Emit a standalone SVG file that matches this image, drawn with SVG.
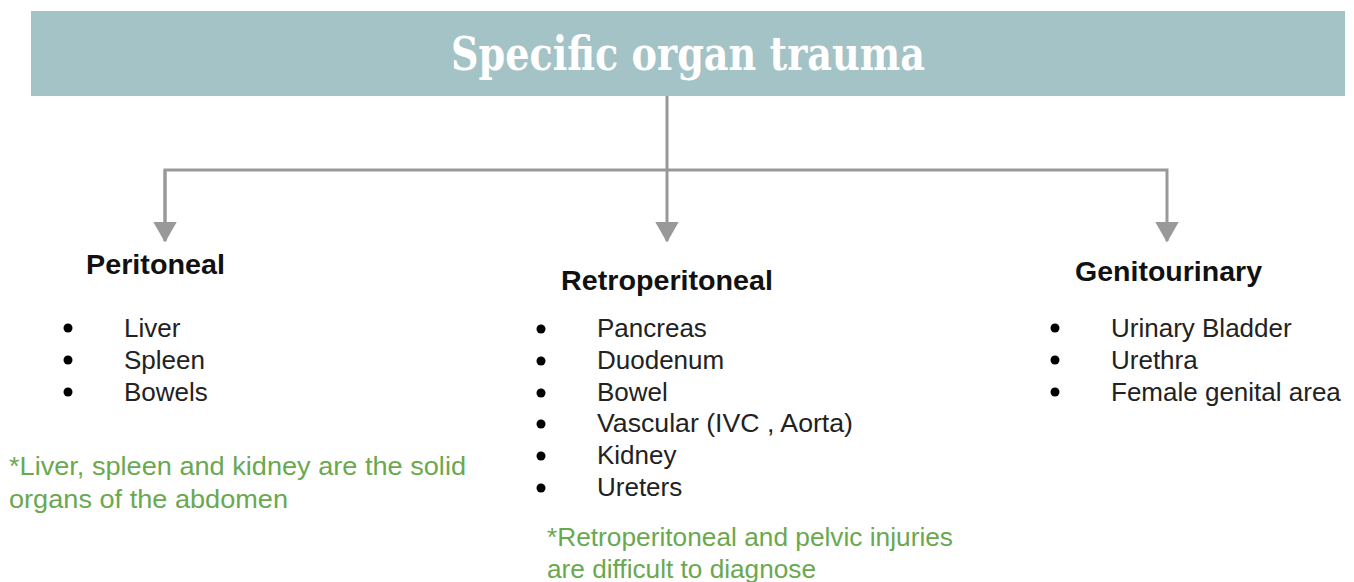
<svg xmlns="http://www.w3.org/2000/svg" width="1354" height="582" viewBox="0 0 1354 582">
<style>
.title{font-family:"DejaVu Serif Condensed","DejaVu Serif",serif;font-weight:bold;font-size:46px;fill:#ffffff}
.head{font-family:"Liberation Sans",Arial,sans-serif;font-weight:bold;font-size:28px;fill:#111111}
.item{font-family:"Liberation Sans",Arial,sans-serif;font-size:26px;fill:#222222}
.note{font-family:"Liberation Sans",Arial,sans-serif;font-size:26px;fill:#6aa84f}
.conn{stroke:#999999;stroke-width:3;fill:none}
.dot{fill:#000000}
</style>
<defs>
<marker id="arr" markerWidth="7" markerHeight="9" refX="6.5" refY="4" orient="auto" markerUnits="strokeWidth" viewBox="0 0 7 8">
<path d="M0,0 L7,4 L0,8 z" fill="#999999"/>
</marker>
</defs>
<rect width="1354" height="582" fill="#ffffff"/>
<g id="header">
<rect x="31" y="11" width="1314" height="85" fill="#a3c3c7"/>
<text class="title" x="688" y="70" text-anchor="middle" textLength="474" lengthAdjust="spacingAndGlyphs">Specific organ trauma</text>
</g>
<g id="connectors">
<path class="conn" d="M667,96 V241" marker-end="url(#arr)"/>
<path class="conn" d="M165,241 V170 H1167 V241" marker-end="url(#arr)"/>
<path class="conn" d="M165,170 V241" marker-end="url(#arr)"/>
</g>
<g id="peritoneal">
<text class="head" x="86" y="274" textLength="139" lengthAdjust="spacingAndGlyphs">Peritoneal</text>
<circle class="dot" cx="68" cy="328" r="4.5"/>
<circle class="dot" cx="68" cy="360" r="4.5"/>
<circle class="dot" cx="68" cy="392" r="4.5"/>
<text class="item" x="124" y="337">Liver</text>
<text class="item" x="124" y="369">Spleen</text>
<text class="item" x="124" y="401">Bowels</text>
<text class="note" x="9" y="475" textLength="457" lengthAdjust="spacingAndGlyphs">*Liver, spleen and kidney are the solid</text>
<text class="note" x="9" y="508" textLength="279" lengthAdjust="spacingAndGlyphs">organs of the abdomen</text>
</g>
<g id="retroperitoneal">
<text class="head" x="561" y="290" textLength="212" lengthAdjust="spacingAndGlyphs">Retroperitoneal</text>
<circle class="dot" cx="541" cy="329" r="4.5"/>
<circle class="dot" cx="541" cy="361" r="4.5"/>
<circle class="dot" cx="541" cy="393" r="4.5"/>
<circle class="dot" cx="541" cy="424" r="4.5"/>
<circle class="dot" cx="541" cy="456" r="4.5"/>
<circle class="dot" cx="541" cy="488" r="4.5"/>
<text class="item" x="597" y="337">Pancreas</text>
<text class="item" x="597" y="369">Duodenum</text>
<text class="item" x="597" y="401">Bowel</text>
<text class="item" x="597" y="432" textLength="256" lengthAdjust="spacingAndGlyphs">Vascular (IVC , Aorta)</text>
<text class="item" x="597" y="464">Kidney</text>
<text class="item" x="597" y="496">Ureters</text>
<text class="note" x="547" y="546" textLength="406" lengthAdjust="spacingAndGlyphs">*Retroperitoneal and pelvic injuries</text>
<text class="note" x="547" y="578" textLength="269" lengthAdjust="spacingAndGlyphs">are difficult to diagnose</text>
</g>
<g id="genitourinary">
<text class="head" x="1075" y="281" textLength="187" lengthAdjust="spacingAndGlyphs">Genitourinary</text>
<circle class="dot" cx="1055" cy="328" r="4.5"/>
<circle class="dot" cx="1055" cy="360" r="4.5"/>
<circle class="dot" cx="1055" cy="392" r="4.5"/>
<text class="item" x="1111" y="337">Urinary Bladder</text>
<text class="item" x="1111" y="369">Urethra</text>
<text class="item" x="1111" y="401">Female genital area</text>
</g>
</svg>
